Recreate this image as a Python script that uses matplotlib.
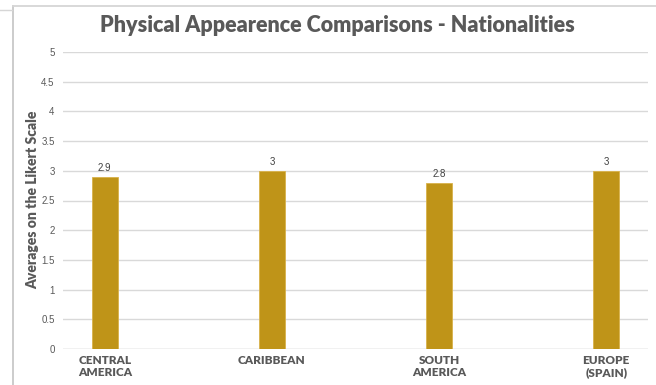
import matplotlib
matplotlib.use("Agg")
import matplotlib.pyplot as plt
from matplotlib.lines import Line2D

categories = ["CENTRAL\nAMERICA", "CARIBBEAN", "SOUTH\nAMERICA", "EUROPE\n(SPAIN)"]
averages = [2.9, 3, 2.8, 3]
value_labels = ["2.9", "3", "2.8", "3"]
y_ticks = [0, 0.5, 1, 1.5, 2, 2.5, 3, 3.5, 4, 4.5, 5]
y_tick_labels = ["0", "0.5", "1", "1.5", "2", "2.5", "3", "3.5", "4", "4.5", "5"]

W, H = 656, 385
fig = plt.figure(figsize=(W / 100, H / 100), dpi=100)
fig.patch.set_facecolor("white")

ax = fig.add_axes([63 / W, 1 - 349 / H, (648 - 63) / W, (349 - 52) / H])
x = list(range(len(categories)))
ax.bar(x, averages, width=0.156, color="#BF9418", edgecolor="#D9B24A",
       linewidth=0.6, zorder=3)

for xi, v, lab in zip(x, averages, value_labels):
    ax.text(xi, v + 0.07, lab, ha="center", va="bottom", fontsize=7,
            family="Liberation Sans", color="#404040", zorder=4)

ax.set_xlim(-0.25, 3.25)
ax.set_ylim(0, 5)
ax.set_yticks(y_ticks)
ax.set_yticklabels(y_tick_labels, family="Liberation Sans", fontsize=7,
                   color="#595959")
ax.set_xticks(x)
ax.set_xticklabels(categories, family="Lato", fontweight="heavy", fontsize=8.5,
                   color="#595959", linespacing=1.15)
ax.tick_params(axis="y", length=0, pad=6)
ax.tick_params(axis="x", length=0, pad=4)
ax.grid(axis="y", color="#D9D9D9", linewidth=1.0, zorder=0)
for s in ax.spines.values():
    s.set_visible(False)
ax.axhline(0, color="#D9D9D9", linewidth=1.0, zorder=2)

ax.set_ylabel("Averages on the Likert Scale", family="Lato", fontweight="heavy",
              fontsize=10, color="#595959")
ax.yaxis.set_label_coords((39 - 63) / 585, (349 - 200) / 297)

fig.text(337 / W, 1 - 25 / H, "Physical Appearence Comparisons - Nationalities",
         ha="center", va="center", family="Lato", fontweight="heavy",
         fontsize=15.5, color="#595959")

# outer frame of the chart area
frame = "#C8C8C8"
fig.add_artist(Line2D([12.5 / W, 12.5 / W], [0, 1 - 6 / H], color=frame,
                      linewidth=1.3, transform=fig.transFigure))
fig.add_artist(Line2D([12.5 / W, 1], [1 - 6 / H, 1 - 6 / H], color="#D6D6D6",
                      linewidth=1.3, transform=fig.transFigure))
fig.add_artist(Line2D([0, 12 / W], [1 - 10 / H, 1 - 10 / H], color="#D6D6D6",
                      linewidth=1.0, transform=fig.transFigure))

fig.savefig("out.png", dpi=100)
